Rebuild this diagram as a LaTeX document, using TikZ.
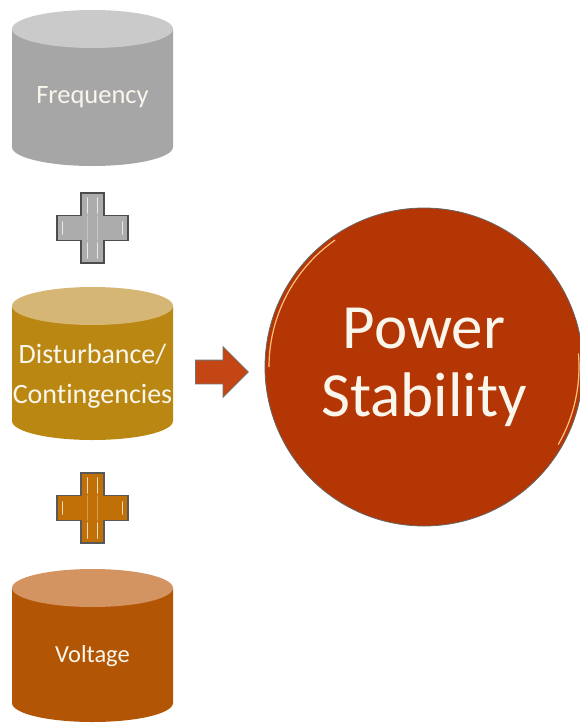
\documentclass[tikz,border=0pt]{standalone}
\usepackage{fontspec}
\setmainfont{Carlito}[Ligatures=NoCommon]
\usepackage{xcolor}
\usetikzlibrary{shapes.geometric, shapes.arrows, positioning}

\definecolor{freqbody}{RGB}{166,166,166}
\definecolor{freqtop}{RGB}{202,202,202}
\definecolor{distbody}{RGB}{186,136,18}
\definecolor{disttop}{RGB}{214,182,116}
\definecolor{voltbody}{RGB}{178,86,6}
\definecolor{volttop}{RGB}{212,148,98}
\definecolor{stabred}{RGB}{180,54,4}
\definecolor{arrowred}{RGB}{196,70,20}
\definecolor{plusgold}{RGB}{192,112,6}
\definecolor{plusgray}{RGB}{172,172,172}
\definecolor{softwhite}{RGB}{250,246,236}

% drum: centre x, y of top end, y of bottom end, body colour, top colour
\newcommand{\drumshape}[5]{
  \fill[#4] (#1-80.5,#3) arc[start angle=180, end angle=0, x radius=80.5, y radius=19]
    -- (#1+80.5,#2) -- (#1-80.5,#2) -- cycle;
  \fill[#5] (#1,#2) ellipse[x radius=80.5, y radius=19];
}

\tikzset{
  drumtext/.style={text=softwhite, align=center, inner sep=0pt},
  plussign/.pic={
    \path[pic actions] (-11.5,-35) -- (11.5,-35) -- (11.5,-12.5) -- (35.5,-12.5)
      -- (35.5,12.5) -- (11.5,12.5) -- (11.5,35) -- (-11.5,35) -- (-11.5,12.5)
      -- (-35.5,12.5) -- (-35.5,-12.5) -- (-11.5,-12.5) -- cycle;
    \draw[white, opacity=0.75, line width=1.6pt, line cap=round]
      (-5,-30) -- (-5,-15) (5,-30) -- (5,-15)
      (-5,15) -- (-5,30) (5,15) -- (5,30)
      (-30,-6) -- (-30,6) (30,-6) -- (30,6);
    \draw[white, opacity=0.3, line width=1.2pt, line cap=round]
      (-5,-12) -- (-5,12) (5,-12) -- (5,12);
  }
}

\begin{document}
\begin{tikzpicture}[x=1pt, y=-1pt]
  \useasboundingbox (0,0) rectangle (580,723);
  % the three inputs
  \drumshape{92.5}{29}{147}{freqbody}{freqtop}
  \drumshape{92.5}{306}{421}{distbody}{disttop}
  \drumshape{92.5}{588}{703}{voltbody}{volttop}
  \node[drumtext, font=\fontsize{26.5}{30}\selectfont] (freq) at (92.5,97) {Frequency};
  \node[drumtext, font=\fontsize{28}{40}\selectfont] (dist) at (92.5,376) {Disturbance/\\Contingencies};
  \node[drumtext, font=\fontsize{24.5}{30}\selectfont] (volt) at (92.5,656) {Voltage};
  % plus signs
  \pic[fill=plusgray, draw=black!70, line width=1.2pt] at (92.5,228) {plussign};
  \pic[fill=plusgold, draw=black!65, line width=1.2pt] at (92.5,508) {plussign};
  % result
  \node[single arrow, fill=arrowred, draw=black!55, line width=0.8pt,
    minimum height=53pt, single arrow head extend=13.5pt,
    single arrow head indent=0pt, inner xsep=0pt, inner ysep=11.5pt,
    anchor=tail] (arr) at (195,372) {};
  \node[circle, fill=stabred, draw=black!60, line width=0.8pt, minimum size=318pt,
    text=softwhite, align=center, font=\fontsize{63}{68}\selectfont]
    (stab) at (424,367) {Power\\Stability};
  \draw[orange!50!white, line width=1.2pt] (stab.center) ++(180:155) arc[start angle=180, end angle=235, radius=155];
  \draw[orange!50!white, line width=1.2pt] (stab.center) ++(-5:155) arc[start angle=-5, end angle=30, radius=155];
\end{tikzpicture}
\end{document}
